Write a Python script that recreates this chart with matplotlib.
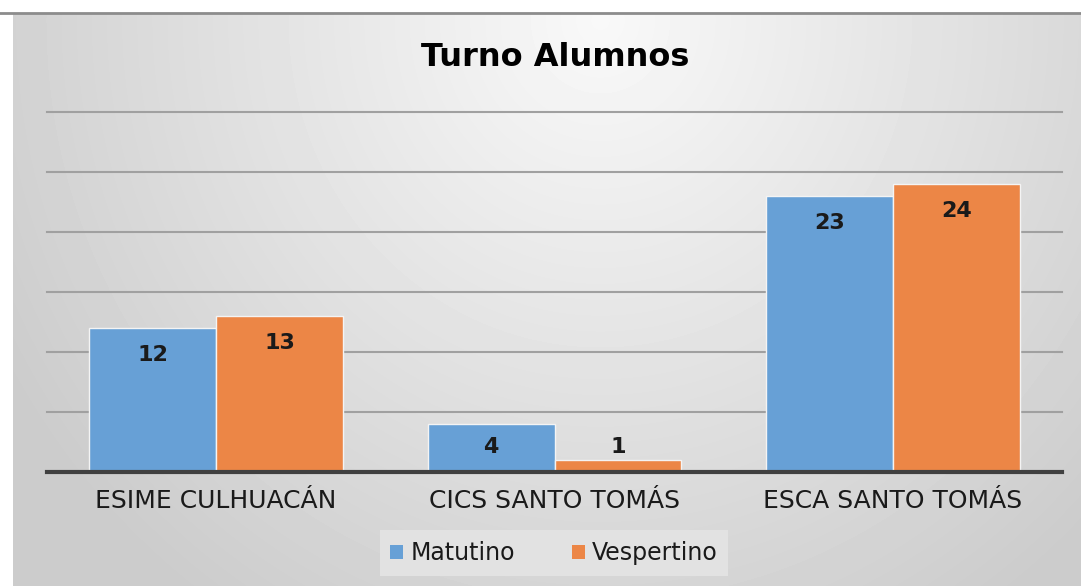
import numpy as np
import matplotlib
matplotlib.use("Agg")
import matplotlib.pyplot as plt
from matplotlib.lines import Line2D
from matplotlib.patches import Patch

categories = ["ESIME CULHUACÁN", "CICS SANTO TOMÁS", "ESCA SANTO TOMÁS"]
matutino = [12, 4, 23]
vespertino = [13, 1, 24]
series_names = ["Matutino", "Vespertino"]
title = "Turno Alumnos"

blue = "#67a0d6"
orange = "#ec8646"
W, H = 1081, 586

fig = plt.figure(figsize=(W / 100, H / 100), dpi=100)
fig.patch.set_facecolor("white")

# radial grey background of the chart area
bg = fig.add_axes([13 / W, 0, 1 - 13 / W, (H - 13) / H], zorder=-10)
xx, yy = np.meshgrid(np.arange(13, W), np.arange(13, H))
d = np.sqrt(((xx - 600) / 620.0) ** 2 + ((yy - 20) / 650.0) ** 2)
v = 0.975 - 0.16 * np.clip(d, 0, 1.1)
bg.imshow(v, cmap="gray", vmin=0, vmax=1, aspect="auto", interpolation="bilinear")
bg.axis("off")

fig.add_artist(Line2D([0, 1], [1 - 12.5 / H, 1 - 12.5 / H], color="#8c8c8c", lw=2,
                      transform=fig.transFigure))

ax = fig.add_axes([47 / W, (H - 472) / H, 1015 / W, 360 / H])
ax.patch.set_alpha(0)
x = np.arange(len(categories))
bw = 0.375
b1 = ax.bar(x - bw / 2, matutino, bw, color=blue, edgecolor="#f4f4f4", lw=1, zorder=3)
b2 = ax.bar(x + bw / 2, vespertino, bw, color=orange, edgecolor="#f4f4f4", lw=1, zorder=3)

for bars, vals in ((b1, matutino), (b2, vespertino)):
    for b, val in zip(bars, vals):
        ax.text(b.get_x() + b.get_width() / 2, max(val - 2.25, 2.1), str(val),
                ha="center", va="center", fontsize=16, fontweight="bold",
                color="#1a1a1a", zorder=4)

ax.set_xlim(-0.5, 2.5)
ax.set_ylim(0, 30)
ax.set_yticks([5, 10, 15, 20, 25, 30])
ax.yaxis.grid(True, color="#a0a0a0", lw=1.5)
for gl in ax.get_ygridlines():
    gl.set_clip_on(False)
ax.set_axisbelow(True)
ax.tick_params(axis="y", left=False, labelleft=False)
ax.set_xticks(x)
ax.set_xticklabels(categories, fontsize=18, color="#1a1a1a")
ax.tick_params(axis="x", length=0, pad=12)
for s in ["top", "right", "left"]:
    ax.spines[s].set_visible(False)
ax.spines["bottom"].set_color("#404040")
ax.spines["bottom"].set_linewidth(3)
ax.spines["bottom"].set_zorder(5)

fig.text(555 / W, 1 - 57 / H, title, ha="center", va="center", fontsize=23,
         fontweight="bold", color="black")

handles = [Patch(facecolor=blue), Patch(facecolor=orange)]
leg = fig.legend(handles, series_names, loc="center", bbox_to_anchor=(554 / W, 1 - 553 / H),
                 ncol=2, fontsize=17, frameon=True, fancybox=False,
                 handlelength=0.55, handleheight=0.55, handletextpad=0.3,
                 columnspacing=2.4, borderpad=0.45)
leg.get_frame().set_facecolor("#e2e2e2")
leg.get_frame().set_edgecolor("none")
leg.get_frame().set_alpha(1)
for t in leg.get_texts():
    t.set_color("#1a1a1a")

fig.savefig("out.png", dpi=100)
